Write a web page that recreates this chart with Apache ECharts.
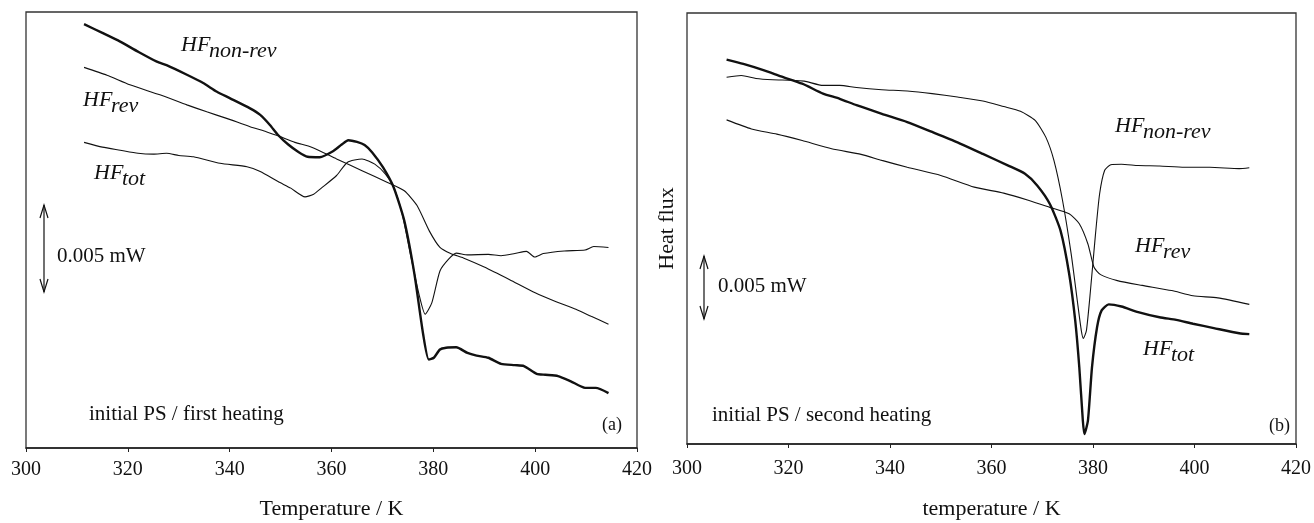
<!DOCTYPE html>
<html>
<head>
<meta charset="utf-8">
<script src="https://cdn.jsdelivr.net/npm/echarts@6/dist/echarts.min.js"></script>
<style>
html,body{margin:0;padding:0;background:#fff;}
#chart{width:1314px;height:523px;}
</style>
</head>
<body>
<div id="chart"></div>
<script>
// ---------- data (temperature K, heat flux in arbitrary units 0..100) ----------
const xTicks = [300, 320, 340, 360, 380, 400, 420];

// Panel (a): initial PS / first heating
const aNonRev = [[311.4,97.2],[315,95.2],[318.5,93.2],[322,90.9],[325.7,88.6],[327.6,87.8],[331.6,85.6],[334.8,83.7],[337.5,81.7],[340.1,80.2],[344.0,77.9],[346.0,76.4],[347.9,74.1],[349.5,71.8],[351.5,69.6],[353.5,67.9],[355.3,66.8],[357.7,66.7],[360.2,68.0],[362,69.6],[363.3,70.6],[365,70.2],[366.5,69.5],[368,67.8],[370.1,64.4],[372.2,59.8],[374.3,52.1],[376.3,39.8],[378.0,26.1],[379.1,20.3],[380.1,20.7],[381.3,22.6],[382.5,23.0],[384.5,23.1],[386.7,21.8],[388.5,21.2],[390.8,20.7],[393.3,19.3],[396,19.0],[397.8,18.8],[400.3,17.0],[402,16.8],[404.5,16.5],[407,15.3],[409.8,13.8],[411.9,13.8],[414.4,12.6]];
const aRev = [[311.4,87.3],[315.9,85.5],[320.4,83.3],[326.3,81.0],[331.6,78.7],[335.5,77.1],[339.4,75.6],[344.0,73.7],[347.3,72.5],[349.5,71.6],[352.8,70.1],[356.1,69.0],[361.0,66.3],[366.0,63.6],[371.0,60.9],[374.3,59.0],[376.8,55.6],[379.2,49.8],[381.3,46.0],[383.4,44.6],[385.9,43.6],[390,41.5],[395,38.6],[400,35.6],[404,33.6],[408,31.8],[411,30.2],[414.4,28.4]];
const aTot = [[311.4,70.1],[315,69.0],[318.5,68.3],[322,67.6],[325,67.4],[327.6,67.6],[330,67.1],[332.9,66.8],[338.1,65.3],[343.4,64.5],[346.0,63.4],[349.5,61.1],[352,59.6],[354.8,57.6],[356.5,58.2],[358,59.6],[361.0,62.5],[363.1,65.5],[366.0,66.3],[368.5,65.1],[370.6,62.8],[372.2,59.8],[373.9,53.6],[375.5,44.4],[377.2,35.2],[378.4,30.7],[379.7,33.3],[381.3,40.6],[383.0,43.3],[384.5,44.7],[386.7,44.3],[390.8,44.4],[393.3,44.1],[396,44.6],[398.3,45.1],[399.9,43.8],[401.6,44.6],[405.7,45.2],[409.8,45.4],[411.5,46.2],[414.4,46.0]];

// Panel (b): initial PS / second heating
const bTot = [[307.8,89.2],[311.1,88.2],[315.2,86.7],[318.5,85.3],[322.7,83.6],[326.8,81.3],[330.1,80.1],[333.4,78.6],[338.4,76.6],[343.4,74.7],[348.3,72.4],[353.3,70.0],[358.3,67.3],[363.3,64.6],[366.6,62.7],[369.0,60.0],[371.5,55.7],[373.6,49.5],[375.3,39.5],[376.5,28.6],[377.3,17.8],[378.0,5.4],[378.3,2.3],[379.0,5.4],[379.8,17.8],[380.8,27.1],[381.7,31.0],[383.1,32.4],[385.6,31.9],[388.9,30.6],[393.1,29.4],[396.4,28.8],[399.7,27.9],[403.8,26.9],[408.8,25.7],[410.8,25.5]];
const bNonRev = [[307.8,85.1],[310.7,85.5],[313.6,84.8],[316.9,84.5],[320.2,84.4],[323.1,84.2],[326.8,83.2],[330.1,83.2],[333.4,82.7],[338.4,82.2],[343.4,81.9],[348.3,81.3],[353.3,80.5],[358.3,79.6],[362.4,78.3],[365.7,77.2],[368.6,75.1],[370.7,71.2],[372.3,65.8],[374.0,56.5],[375.7,44.1],[376.9,33.3],[377.7,26.3],[378.1,24.5],[378.7,26.3],[379.5,35.6],[380.5,48.8],[381.3,58.0],[382.3,63.5],[383.5,64.8],[385.6,64.9],[388.9,64.6],[393.1,64.5],[398.0,64.2],[403.0,64.2],[408.8,63.9],[410.8,64.1]];
const bRev = [[307.8,75.2],[312.7,73.1],[317.7,71.9],[322.7,70.4],[328.5,68.5],[334.3,67.2],[338.4,65.8],[343.4,64.2],[350.0,62.3],[356.6,59.6],[362.4,58.2],[367.4,56.5],[371.5,54.9],[375.3,53.4],[377.3,51.1],[379.0,46.4],[380.2,41.0],[381.5,39.3],[384.8,37.9],[389.7,36.8],[395.5,35.6],[399.7,34.4],[404.6,33.9],[410.8,32.4]];

// ---------- chart ----------
const FONT = '"Liberation Serif", "DejaVu Serif", serif';
const INK = '#111';

function xAxisCfg(gridIndex, name, margin, nameGap) {
  return {
    gridIndex, type: 'value', min: xTicks[0], max: xTicks[xTicks.length - 1], interval: 20,
    name, nameLocation: 'middle', nameGap,
    nameTextStyle: { fontFamily: FONT, fontSize: 22, color: INK },
    axisLine: { show: true, lineStyle: { color: '#222', width: 1.5 } },
    axisTick: { show: true, inside: false, length: 4, lineStyle: { color: '#222', width: 1 } },
    axisLabel: { fontFamily: FONT, fontSize: 20, color: INK, margin },
    splitLine: { show: false }
  };
}
function yAxisCfg(gridIndex, name) {
  return {
    gridIndex, type: 'value', min: 0, max: 100,
    name, nameLocation: 'middle', nameGap: 9, nameRotate: 90,
    nameTextStyle: { fontFamily: FONT, fontSize: 22, color: INK },
    axisLine: { show: false }, axisTick: { show: false },
    axisLabel: { show: false }, splitLine: { show: false }
  };
}
function lineSeries(data, idx, width) {
  return {
    type: 'line', data, xAxisIndex: idx, yAxisIndex: idx,
    showSymbol: false, symbol: 'none', smooth: 0.2,
    lineStyle: { color: INK, width }, silent: true, animation: false
  };
}

function txt(x, y, text, size, italic) {
  return { type: 'text', x, y, silent: true,
    style: { text, fill: INK, font: (italic ? 'italic ' : '') + size + 'px ' + FONT,
             textAlign: 'left', textVerticalAlign: 'middle' } };
}
function hf(x, baseline, sub) {
  return [txt(x, baseline - 7, 'HF', 22, true), txt(x + 28, baseline - 1, sub, 22, true)];
}
function arrow(x, y1, y2) {
  return [
    { type: 'line', silent: true, shape: { x1: x, y1, x2: x, y2 }, style: { stroke: INK, lineWidth: 1.2 } },
    { type: 'polyline', silent: true, shape: { points: [[x - 4, y1 + 13], [x, y1], [x + 4, y1 + 13]] }, style: { stroke: INK, lineWidth: 1.2, fill: null } },
    { type: 'polyline', silent: true, shape: { points: [[x - 4, y2 - 13], [x, y2], [x + 4, y2 - 13]] }, style: { stroke: INK, lineWidth: 1.2, fill: null } }
  ];
}

const chart = echarts.init(document.getElementById('chart'), null, { renderer: 'canvas' });
chart.setOption({
  backgroundColor: '#fff',
  animation: false,
  grid: [
    { left: 26, top: 12, right: 677, bottom: 75, show: true, borderColor: '#333', borderWidth: 1.3, backgroundColor: 'transparent', containLabel: false, outerBoundsMode: 'none' },
    { left: 687, top: 13, right: 18, bottom: 79, show: true, borderColor: '#333', borderWidth: 1.3, backgroundColor: 'transparent', containLabel: false, outerBoundsMode: 'none' }
  ],
  xAxis: [xAxisCfg(0, 'Temperature / K', 12, 50), xAxisCfg(1, 'temperature / K', 15, 54)],
  yAxis: [yAxisCfg(0, ''), yAxisCfg(1, 'Heat flux')],
  series: [
    lineSeries(aNonRev, 0, 2.4),
    lineSeries(aRev, 0, 1.1),
    lineSeries(aTot, 0, 1.1),
    lineSeries(bTot, 1, 2.4),
    lineSeries(bNonRev, 1, 1.1),
    lineSeries(bRev, 1, 1.1)
  ],
  graphic: [].concat(
    hf(181, 52, 'non-rev'), hf(83, 107, 'rev'), hf(94, 180, 'tot'),
    hf(1115, 133, 'non-rev'), hf(1135, 253, 'rev'), hf(1143, 356, 'tot'),
    arrow(44, 205, 292), arrow(704, 256, 319),
    [txt(57, 256, '0.005 mW', 21, false), txt(718, 286, '0.005 mW', 21, false),
     txt(89, 414, 'initial PS / first heating', 21, false),
     txt(712, 415, 'initial PS / second heating', 21, false),
     txt(602, 425, '(a)', 18, false), txt(1269, 426, '(b)', 18, false)]
  )
});
</script>
</body>
</html>
